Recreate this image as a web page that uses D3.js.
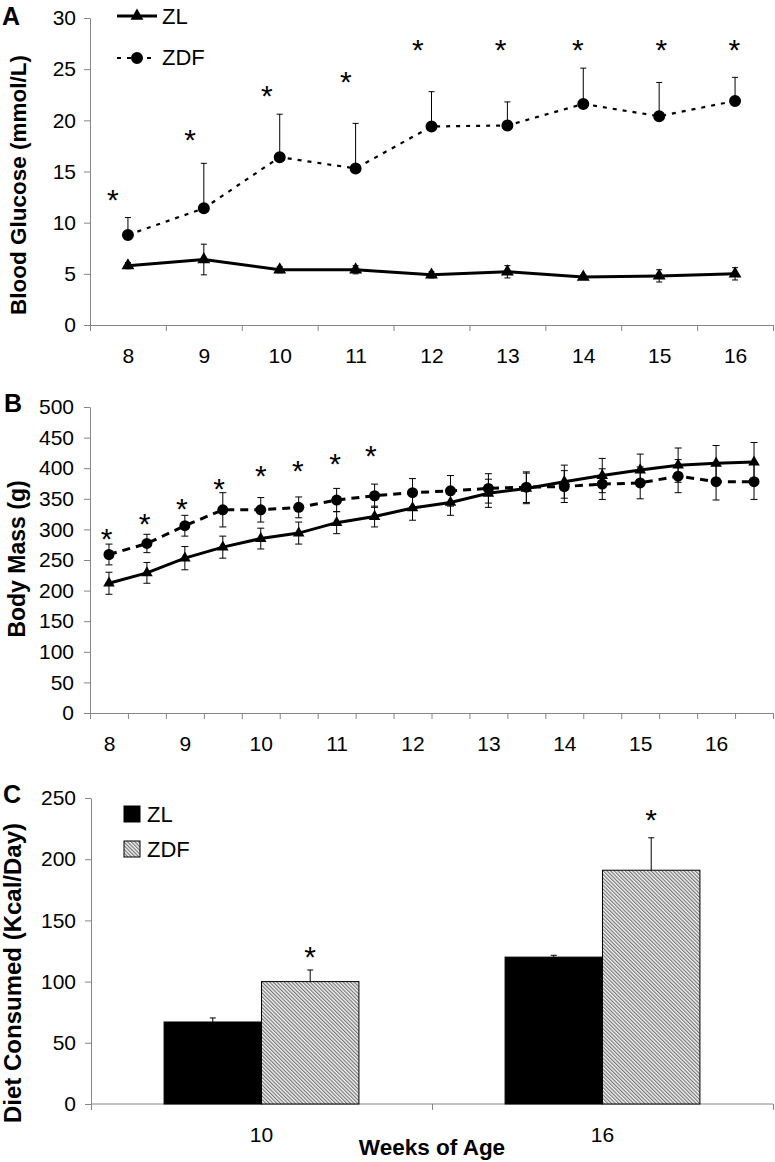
<!DOCTYPE html>
<html>
<head>
<meta charset="utf-8">
<script src="https://cdn.jsdelivr.net/npm/d3@7"></script>
<style>
  body { margin: 0; background: #fff; }
  svg text { font-family: "Liberation Sans", Arial, sans-serif; fill: #000; }
  .axis path, .axis line { stroke: #868686; stroke-width: 1; }
</style>
</head>
<body>
<div id="vis"></div>
<script>
// A: blood glucose by week
var glucoseWeeks = [8, 9, 10, 11, 12, 13, 14, 15, 16];
var glucoseZL = [5.8, 6.4, 5.4, 5.4, 4.9, 5.2, 4.7, 4.8, 5.0];
var glucoseZLErr = [0.3, 1.5, 0.3, 0.4, 0.3, 0.6, 0.2, 0.6, 0.6];
var glucoseZDF = [8.8, 11.4, 16.4, 15.3, 19.4, 19.5, 21.6, 20.4, 21.9];
var glucoseZDFErr = [1.7, 4.4, 4.2, 4.4, 3.4, 2.3, 3.5, 3.3, 2.3];
var glucoseStarWeek = [7.8, 8.82, 9.83, 10.87, 11.82, 12.91, 13.93, 15.03, 15.99];
var glucoseStarY = [12.9, 18.8, 23.1, 24.5, 27.6, 27.6, 27.6, 27.6, 27.6];
var glucoseTicks = [0, 5, 10, 15, 20, 25, 30];

// B: body mass, half-week steps
var massWeeks = [8, 8.5, 9, 9.5, 10, 10.5, 11, 11.5, 12, 12.5, 13, 13.5, 14, 14.5, 15, 15.5, 16, 16.5];
var massLabels = [8, 9, 10, 11, 12, 13, 14, 15, 16];
var massZL = [212, 229, 253, 271, 285, 294, 311, 321, 335, 344, 359, 367, 378, 388, 397, 405, 408, 410];
var massZLErr = [18, 17, 19, 18, 17, 18, 18, 17, 20, 21, 23, 25, 27, 28, 26, 28, 29, 32];
var massZDF = [259, 277, 306, 332, 332, 336, 348, 355, 360, 363, 367, 369, 370, 374, 376, 387, 378, 378];
var massZDFErr = [17, 15, 17, 28, 20, 17, 19, 19, 23, 25, 24, 25, 26, 25, 26, 27, 30, 29];
var massStarWeek = [7.97, 8.47, 8.96, 9.45, 10.0, 10.49, 10.98, 11.45];
var massStarY = [297, 321, 346, 378, 399, 408, 419, 432];
var massTicks = [0, 50, 100, 150, 200, 250, 300, 350, 400, 450, 500];

// C: diet consumed
var dietWeeks = ['10', '16'];
var dietGroups = ['ZL', 'ZDF'];
var dietZL = [67, 120];
var dietZLErr = [3.3, 1.5];
var dietZDF = [100, 191];
var dietZDFErr = [9.5, 26.5];
var dietStarY = [126, 238];
var dietTicks = [0, 50, 100, 150, 200, 250];

var width = 775;
var height = 1162;
var tickFont = 21;
var starFont = 30;

var svg = d3.select('#vis')
  .append('svg')
  .attr('width', width)
  .attr('height', height);

var pattern = svg.append('defs').append('pattern')
  .attr('id', 'hatch')
  .attr('patternUnits', 'userSpaceOnUse')
  .attr('width', 2.6)
  .attr('height', 2.6)
  .attr('patternTransform', 'rotate(-45)');
pattern.append('rect').attr('width', 2.6).attr('height', 2.6).attr('fill', '#f4f4f4');
pattern.append('line')
  .attr('x1', 0.6).attr('y1', 0).attr('x2', 0.6).attr('y2', 2.6)
  .attr('stroke', '#6e6e6e').attr('stroke-width', 1.1);

function toPoints(weeks, values, errs) {
  return weeks.map(function (w, i) {
    return { week: w, value: values[i], err: errs[i] };
  });
}

function drawYAxis(y, x0, ticks, pad) {
  svg.append('g')
    .attr('class', 'axis')
    .attr('transform', 'translate(' + x0 + ',0)')
    .call(d3.axisLeft(y).tickValues(ticks).tickSize(6).tickSizeOuter(0).tickPadding(pad))
    .attr('font-size', tickFont);
}

// ticks sit on category edges, labels at centres (Excel style)
function drawXAxis(x, y0, edges, labels) {
  svg.append('g')
    .attr('class', 'axis')
    .attr('transform', 'translate(0,' + y0 + ')')
    .call(d3.axisBottom(x).tickValues(edges).tickFormat('').tickSize(6).tickSizeOuter(0));

  svg.append('g')
    .attr('transform', 'translate(0,' + y0 + ')')
    .call(d3.axisBottom(x).tickValues(labels).tickSize(0).tickPadding(23))
    .attr('font-size', tickFont)
    .call(function (g) { g.select('.domain').remove(); });
}

function errorBars(data, x, y, cap, both) {
  svg.append('g').selectAll('path')
    .data(data)
    .enter().append('path')
    .attr('fill', 'none')
    .attr('stroke', '#000')
    .attr('stroke-width', 1)
    .attr('d', function (d) {
      var cx = x(d.week);
      var top = y(d.value + d.err);
      var bot = both ? y(d.value - d.err) : y(d.value);
      var p = 'M' + cx + ',' + bot + 'V' + top +
              'M' + (cx - cap / 2) + ',' + top + 'H' + (cx + cap / 2);
      if (both) {
        p += 'M' + (cx - cap / 2) + ',' + bot + 'H' + (cx + cap / 2);
      }
      return p;
    });
}

function seriesLine(data, x, y, w, dash) {
  svg.append('path')
    .datum(data)
    .attr('fill', 'none')
    .attr('stroke', '#000')
    .attr('stroke-width', w)
    .attr('stroke-dasharray', dash)
    .attr('d', d3.line()
      .x(function (d) { return x(d.week); })
      .y(function (d) { return y(d.value); }));
}

function markers(data, x, y, type, size) {
  svg.append('g').selectAll('path')
    .data(data)
    .enter().append('path')
    .attr('fill', '#000')
    .attr('transform', function (d) { return 'translate(' + x(d.week) + ',' + y(d.value) + ')'; })
    .attr('d', d3.symbol().type(type).size(size));
}

function stars(weeks, vals, x, y) {
  svg.append('g').selectAll('text')
    .data(weeks)
    .enter().append('text')
    .attr('x', function (d) { return x(d); })
    .attr('y', function (d, i) { return y(vals[i]); })
    .attr('dy', '0.58em')
    .attr('text-anchor', 'middle')
    .attr('font-size', starFont)
    .text('*');
}

function yTitle(label, x0, cy, size) {
  svg.append('text')
    .attr('transform', 'translate(' + x0 + ',' + cy + ') rotate(-90)')
    .attr('text-anchor', 'middle')
    .attr('font-weight', 'bold')
    .attr('font-size', size)
    .text(label);
}

function panelLetter(letter, x0, y0) {
  svg.append('text')
    .attr('x', x0)
    .attr('y', y0)
    .attr('font-weight', 'bold')
    .attr('font-size', 25)
    .text(letter);
}

// ---- panel A ----
var xA = d3.scaleLinear().domain([7.5, 16.5]).range([90, 773]);
var yA = d3.scaleLinear().domain([0, 30]).range([325, 18]);
var zlA = toPoints(glucoseWeeks, glucoseZL, glucoseZLErr);
var zdfA = toPoints(glucoseWeeks, glucoseZDF, glucoseZDFErr);

drawXAxis(xA, 325, d3.range(7.5, 16.6, 1), glucoseWeeks);
drawYAxis(yA, 90, glucoseTicks, 8);
errorBars(zlA, xA, yA, 6, true);
errorBars(zdfA, xA, yA, 6, false);
seriesLine(zdfA, xA, yA, 2.2, '4,6');
seriesLine(zlA, xA, yA, 3, null);
markers(zdfA, xA, yA, d3.symbolCircle, 113);
markers(zlA, xA, yA, d3.symbolTriangle, 72);
stars(glucoseStarWeek, glucoseStarY, xA, yA);
yTitle('Blood Glucose (mmol/L)', 26, 185, 22.5);
panelLetter('A', 2, 25);

var legA = svg.append('g').attr('transform', 'translate(117,0)');
legA.append('line').attr('x1', 0).attr('x2', 40).attr('y1', 16).attr('y2', 16)
  .attr('stroke', '#000').attr('stroke-width', 3);
legA.append('path').attr('transform', 'translate(20,16)')
  .attr('d', d3.symbol().type(d3.symbolTriangle).size(72));
legA.append('line').attr('x1', 0).attr('x2', 40).attr('y1', 58).attr('y2', 58)
  .attr('stroke', '#000').attr('stroke-width', 2.2).attr('stroke-dasharray', '4,6');
legA.append('path').attr('transform', 'translate(20,58)')
  .attr('d', d3.symbol().type(d3.symbolCircle).size(113));
legA.append('text').attr('x', 45).attr('y', 24).attr('font-size', 22).text('ZL');
legA.append('text').attr('x', 45).attr('y', 65).attr('font-size', 22).text('ZDF');

// ---- panel B ----
var xB = d3.scaleLinear().domain([7.75, 16.75]).range([90, 773]);
var yB = d3.scaleLinear().domain([0, 500]).range([713, 407]);
var zlB = toPoints(massWeeks, massZL, massZLErr);
var zdfB = toPoints(massWeeks, massZDF, massZDFErr);

drawXAxis(xB, 713, d3.range(7.75, 16.8, 0.5), massLabels);
drawYAxis(yB, 90, massTicks, 10);
errorBars(zlB, xB, yB, 7, true);
errorBars(zdfB, xB, yB, 7, true);
seriesLine(zdfB, xB, yB, 3, '8,6');
seriesLine(zlB, xB, yB, 3, null);
markers(zdfB, xB, yB, d3.symbolCircle, 95);
markers(zlB, xB, yB, d3.symbolTriangle, 58);
stars(massStarWeek, massStarY, xB, yB);
yTitle('Body Mass (g)', 25, 559, 23);
panelLetter('B', 4, 412);

// ---- panel C ----
var xC = d3.scaleBand().domain(dietWeeks).range([91, 773]);
var xSub = d3.scaleBand().domain(dietGroups).range([0, xC.bandwidth()]).paddingOuter(0.75);
var yC = d3.scaleLinear().domain([0, 250]).range([1104, 798]);

var dietRows = dietWeeks.map(function (w, i) {
  return [
    { week: w, key: 'ZL', value: dietZL[i], err: dietZLErr[i] },
    { week: w, key: 'ZDF', value: dietZDF[i], err: dietZDFErr[i] }
  ];
});
var dietBars = [].concat.apply([], dietRows);

var xCedges = [xC.range()[0]].concat(dietWeeks.map(function (w) { return xC(w) + xC.step(); }));
var xCpix = d3.scaleLinear().domain([0, width]).range([0, width]);
svg.append('g')
  .attr('class', 'axis')
  .attr('transform', 'translate(0,1104)')
  .call(d3.axisBottom(xCpix).tickValues(xCedges).tickFormat('').tickSize(6).tickSizeOuter(0))
  .call(function (g) {
    g.select('.domain').attr('d', 'M' + xC.range()[0] + ',0H' + xC.range()[1]);
  });
svg.append('g')
  .attr('transform', 'translate(0,1104)')
  .call(d3.axisBottom(xC).tickSize(0).tickPadding(23))
  .attr('font-size', tickFont)
  .call(function (g) { g.select('.domain').remove(); });
drawYAxis(yC, 91, dietTicks, 9);

function barX(d) { return xC(d.week) + xSub(d.key); }

svg.append('g').selectAll('rect')
  .data(dietBars)
  .enter().append('rect')
  .attr('x', barX)
  .attr('y', function (d) { return yC(d.value); })
  .attr('width', xSub.bandwidth())
  .attr('height', function (d) { return yC(0) - yC(d.value); })
  .attr('fill', function (d) { return d.key === 'ZL' ? '#000' : 'url(#hatch)'; })
  .attr('stroke', '#000')
  .attr('stroke-width', 1);

svg.append('g').selectAll('path')
  .data(dietBars)
  .enter().append('path')
  .attr('fill', 'none')
  .attr('stroke', '#000')
  .attr('d', function (d) {
    var cx = barX(d) + xSub.bandwidth() / 2;
    var top = yC(d.value + d.err);
    return 'M' + cx + ',' + yC(d.value) + 'V' + top + 'M' + (cx - 3) + ',' + top + 'H' + (cx + 3);
  });

svg.append('g').selectAll('text')
  .data(dietWeeks)
  .enter().append('text')
  .attr('x', function (d) { return xC(d) + xSub('ZDF') + xSub.bandwidth() / 2; })
  .attr('y', function (d, i) { return yC(dietStarY[i]); })
  .attr('dy', '0.58em')
  .attr('text-anchor', 'middle')
  .attr('font-size', starFont)
  .text('*');

yTitle('Diet Consumed (Kcal/Day)', 21, 973, 24);
panelLetter('C', 3, 803);

svg.append('text')
  .attr('x', (xC.range()[0] + xC.range()[1]) / 2)
  .attr('y', 1155)
  .attr('text-anchor', 'middle')
  .attr('font-weight', 'bold')
  .attr('font-size', 22.5)
  .text('Weeks of Age');

var legC = svg.append('g').attr('transform', 'translate(124,806)');
legC.selectAll('rect')
  .data(dietGroups)
  .enter().append('rect')
  .attr('x', 0)
  .attr('y', function (d, i) { return i * 35; })
  .attr('width', 16)
  .attr('height', 16)
  .attr('fill', function (d) { return d === 'ZL' ? '#000' : 'url(#hatch)'; })
  .attr('stroke', '#000')
  .attr('stroke-width', 1);
legC.selectAll('text')
  .data(dietGroups)
  .enter().append('text')
  .attr('x', 23)
  .attr('y', function (d, i) { return 16 + i * 35; })
  .attr('font-size', 22)
  .text(function (d) { return d; });
</script>
</body>
</html>
